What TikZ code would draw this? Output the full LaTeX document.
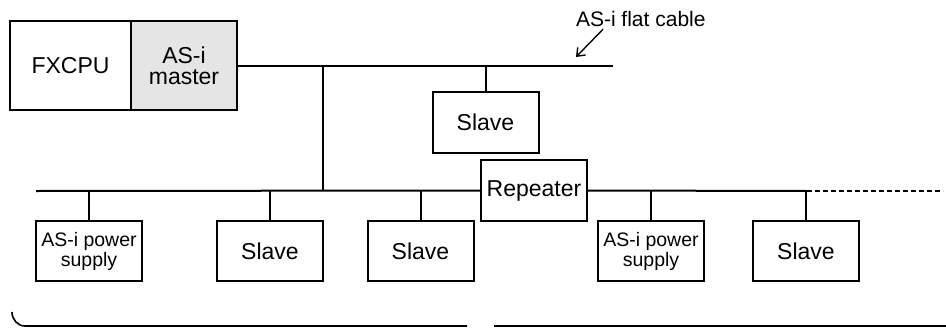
\documentclass[tikz,border=0pt]{standalone}
\usepackage{fontspec}
\setmainfont{Liberation Sans}
\usetikzlibrary{arrows.meta}

\begin{document}
\begin{tikzpicture}[x=1pt, y=-1pt, line width=2pt]
\tikzset{boite/.style={draw, rectangle, inner sep=0pt, minimum width=106pt, minimum height=60pt, font=\fontsize{23}{21}\selectfont, align=center},
petiteboite/.style={boite, font=\fontsize{19.5}{20}\selectfont}}
\useasboundingbox (0,0) rectangle (946,327);
\node[boite, minimum width=121pt, minimum height=89pt] (FX) at (70.5,65.5) {FXCPU};
\node[boite, fill=gray!20, minimum height=89pt] (M) at (184,65.5) {AS-i\\master};
\coordinate (C1) at (613,66);
\coordinate (J1) at (323,66);
\coordinate (J2) at (323,191);
\coordinate (B1) at (36,191);
\coordinate (D1) at (807,191);
\coordinate (D2) at (943,191);
\node[boite, minimum height=61pt] (S0) at (485.5,122.5) {Slave};
\node[boite, minimum height=61pt] (R) at (534,190.5) {Repeater};
\node[petiteboite] (P1) at (89,251) {AS-i power\\supply};
\node[boite] (S1) at (270,251) {Slave};
\node[boite] (S2) at (420.5,251) {Slave};
\node[petiteboite] (P2) at (651,251) {AS-i power\\supply};
\node[boite] (S3) at (806,251) {Slave};
\node[anchor=west, inner sep=0pt, font=\fontsize{21}{21}\selectfont] (L) at (575,18.5) {AS-i flat cable};
\coordinate (T) at (576,57);
\draw (M.east |- C1) -- (C1);
\draw (S0.north |- C1) -- (S0.north);
\draw (J1) -- (J2);
\draw (B1) -- (R.west);
\draw (R.east) -- (D1);
\draw[line width=1.3pt, dash pattern=on 5pt off 3pt] (D1) -- (D2);
\draw (P1.north |- B1) -- (P1.north);
\draw (S1.north |- B1) -- (S1.north);
\draw (S2.north |- B1) -- (S2.north);
\draw (P2.north |- B1) -- (P2.north);
\draw (S3.north |- B1) -- (S3.north);
\draw[line width=1.4pt, -{Straight Barb[length=7pt, width=11pt]}] ([xshift=28pt, yshift=-2pt]L.south west) -- (T);
% accolade du bas
\draw[line width=1.6pt] (12,312) to[out=-90, in=180] (25,326) -- (467,326);
\draw[line width=1.6pt] (494,326) -- (946,326);
\end{tikzpicture}
\end{document}
